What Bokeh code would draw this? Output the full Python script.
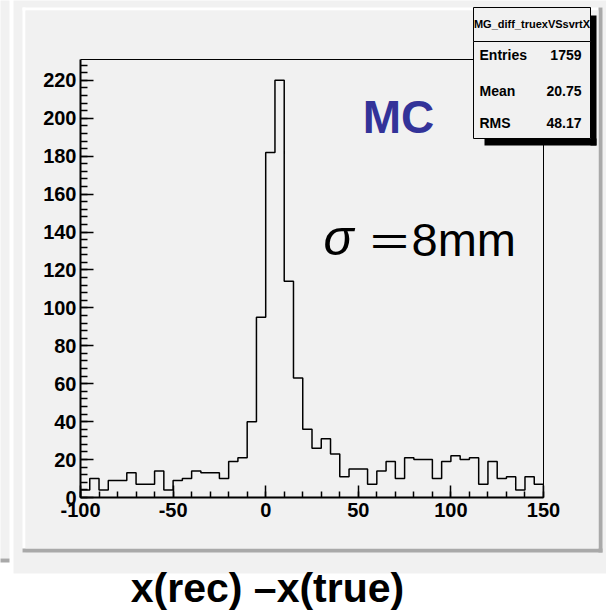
from bokeh.plotting import figure
from bokeh.models import BoxAnnotation, Label, SingleIntervalTicker, Range1d, PrintfTickFormatter
from bokeh.layouts import column
from bokeh.embed import file_html
from bokeh.resources import INLINE

# ---------------- data ----------------
hist_name = "MG_diff_truexVSsvrtX"
x_min, x_max = -100, 150
bin_width = 5
counts = [4, 10, 4, 9, 9, 13, 7, 7, 14, 4,
          9, 10, 14, 13, 13, 10, 19, 21, 40, 95,
          182, 220, 114, 63, 36, 26, 31, 23, 11, 15,
          15, 7, 14, 19, 10, 21, 20, 20, 10, 19,
          22, 20, 21, 7, 19, 10, 11, 4, 11, 7]
stats_labels = ["Entries", "Mean", "RMS"]
stats_values = ["1759", "20.75", "48.17"]
x_title = "x(rec) \u2013x(true)"
tag_text = "MC"
sigma_sym = "\u03c3"
sigma_eq = "\uff1d"
sigma_val = "8mm"
y_max = max(counts) * 1.05

# ---------------- geometry (canvas pixels) ----------------
W, H = 606, 613
FL, FR, FT, FB = 80, 543, 59, 497
GRAY = "#f1f1f1"
DARK = "#a9a9a9"
FONT = "Liberation Sans"

# ---------- background / decoration layer (canvas pixel coordinates) ----------
bg = figure(width=W, height=H, x_range=Range1d(0, W), y_range=Range1d(H, 0),
            x_axis_type=None, y_axis_type=None, output_backend="svg", toolbar_location=None,
            min_border=0, min_border_left=0, min_border_right=0, min_border_top=0, min_border_bottom=0,
            background_fill_color="white", border_fill_color="white", outline_line_color=None)
bg.grid.visible = False


def box(l, r, t, b, fill, line=None, lw=1):
    bg.add_layout(BoxAnnotation(left=l, right=r, top=t, bottom=b,
                                fill_color=fill, fill_alpha=1.0,
                                line_color=line, line_width=lw, line_alpha=1.0, level="underlay"))


def label(px, py, text, size, style="bold", align="left", color="black", font=FONT):
    bg.add_layout(Label(x=px, y=py, text=text, text_font=font, text_font_size=size,
                        text_font_style=style, text_align=align, text_baseline="middle",
                        text_color=color))


box(13, W + 5, -5, 573, GRAY)
box(-5, 9, -5, 558, GRAY)
box(-5, 9, 558, 562, DARK)
box(22, 602, 7, 10, "white")
box(22, 25, 7, 552, "white")
box(22, 602, 548, 552, DARK)
box(598, 602, 7, 552, DARK)
box(25, 598, 10, 548, GRAY)
# frame top and right edges
box(FL, FR, FT - 0.5, FT + 0.5, "black")
box(FR - 0.5, FR + 0.5, FT, FB, "black")
# stats box with shadow
box(590, 596, 15, 145, "black")
box(484, 596, 138, 145, "black")
box(473, 590, 7, 41, GRAY, line="black", lw=1)
box(473, 590, 41, 138, GRAY, line="black", lw=1)

label(531.5, 23, hist_name, "11px", align="center")
rows_y = [54, 90, 122]
for lab, val, yy in zip(stats_labels, stats_values, rows_y):
    label(479, yy, lab, "14px")
    label(581, yy, val, "14px", align="right")

label(398, 116, tag_text, "46px", align="center", color="#333399")
label(323, 237, sigma_sym, "50px", style="italic")
label(389, 239, sigma_eq, "45px", style="normal", align="center", font="Noto Sans CJK SC")
label(411, 239, sigma_val, "47px", style="normal")
label(267, 587, x_title, "41px", align="center")

# ---------------- histogram layer with the real axes ----------------
p = figure(width=W, height=H, x_range=Range1d(x_min, x_max), y_range=Range1d(0, y_max),
           output_backend="svg", toolbar_location=None,
           min_border_left=FL, min_border_right=W - FR, min_border_top=FT, min_border_bottom=H - FB,
           background_fill_color=None, border_fill_color=None, outline_line_color=None)
p.grid.visible = False
p.margin = (-H, 0, 0, 0)

for f in (bg, p):
    try:
        f.frame_align = False
    except Exception:
        pass

edges = [x_min + i * bin_width for i in range(len(counts) + 1)]
xs, ys = [edges[0]], [0]
for i, c in enumerate(counts):
    xs += [edges[i], edges[i + 1]]
    ys += [c, c]
xs.append(edges[-1])
ys.append(0)
p.line(xs, ys, line_color="black", line_width=1.5)

for ax, interval in ((p.xaxis[0], 50), (p.yaxis[0], 20)):
    ax.ticker = SingleIntervalTicker(interval=interval, num_minor_ticks=5)
    ax.formatter = PrintfTickFormatter(format="%d")
    ax.axis_line_width = 2
    ax.axis_line_color = "black"
    ax.major_tick_out = 0
    ax.minor_tick_out = 0
    ax.major_tick_line_width = 1.5
    ax.minor_tick_line_width = 1.5
    ax.major_label_text_font = FONT
    ax.major_label_text_font_style = "bold"
    ax.major_label_text_font_size = "20px"
    ax.major_label_text_color = "black"
p.xaxis.major_tick_in = 12
p.xaxis.minor_tick_in = 6
p.xaxis.major_label_standoff = 5
p.yaxis.major_tick_in = 13
p.yaxis.minor_tick_in = 7
p.yaxis.major_label_standoff = 4

layout = column(bg, p, spacing=0)
open("out.html", "w").write(file_html(layout, INLINE))
